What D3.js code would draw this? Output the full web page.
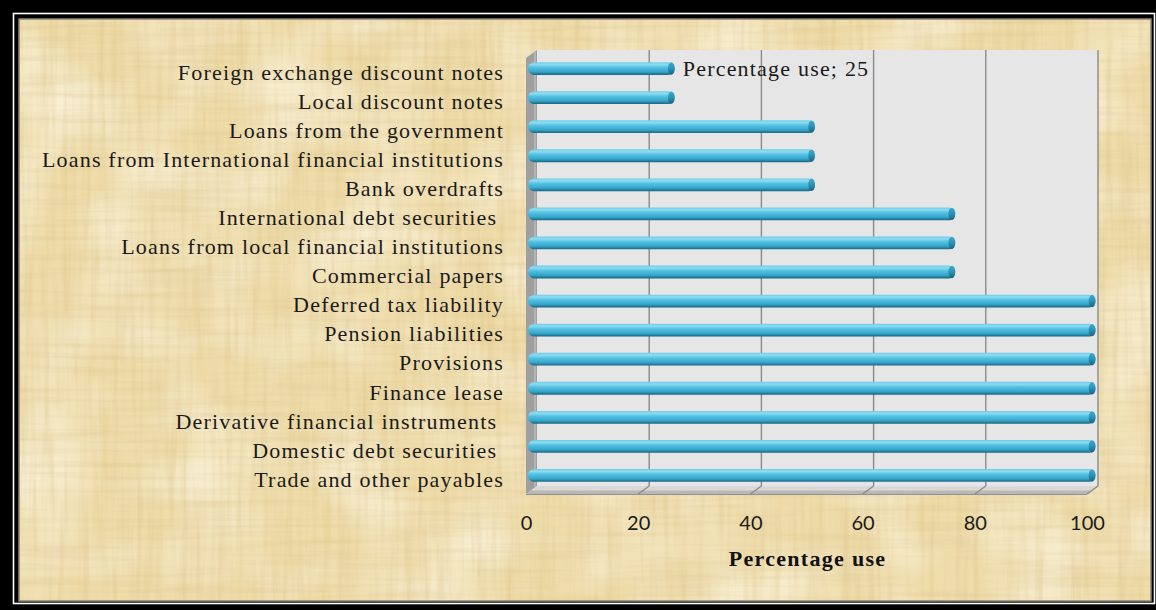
<!DOCTYPE html>
<html>
<head>
<meta charset="utf-8">
<script src="https://cdn.jsdelivr.net/npm/d3@7"></script>
<style>
  html, body { margin: 0; padding: 0; background: #000; }
  svg { display: block; }
  .cat text { white-space: pre; }
</style>
</head>
<body>
<svg id="chart" width="1156" height="610"></svg>
<script>
// Funding sources and the share of firms using each (top to bottom)
const categories = [
  "Foreign exchange discount notes",
  "Local discount notes",
  "Loans from the government",
  "Loans from International financial institutions",
  "Bank overdrafts",
  "International debt securities ",
  "Loans from local financial institutions",
  "Commercial papers",
  "Deferred tax liability",
  "Pension liabilities",
  "Provisions",
  "Finance lease",
  "Derivative financial instruments ",
  "Domestic debt securities ",
  "Trade and other payables"
];
const percentageUse = [25, 25, 50, 50, 50, 75, 75, 75, 100, 100, 100, 100, 100, 100, 100];
const xTicks = [0, 20, 40, 60, 80, 100];
const seriesName = "Percentage use";
const axisTitle = "Percentage use";
const labelledIndex = 0; // bar carrying the data label

const W = 1156, H = 610;
const paper = { x: 19, y: 19, w: 1132, h: 582 };
const serif = "'Liberation Serif', 'Times New Roman', serif";
const svg = d3.select("#chart");
const defs = svg.append("defs");

// ---------- papyrus texture ----------
const f = defs.append("filter").attr("id", "paper")
  .attr("filterUnits", "userSpaceOnUse")
  .attr("x", paper.x).attr("y", paper.y).attr("width", paper.w).attr("height", paper.h);
f.append("feTurbulence").attr("type", "fractalNoise")
  .attr("baseFrequency", "0.16 0.008").attr("numOctaves", 3).attr("seed", 7).attr("result", "nv");
f.append("feColorMatrix").attr("in", "nv").attr("type", "matrix")
  .attr("values", "0 0 0 0 0.72  0 0 0 0 0.55  0 0 0 0 0.24  0.9 0 0 0 -0.36")
  .attr("result", "dv");
f.append("feTurbulence").attr("type", "fractalNoise")
  .attr("baseFrequency", "0.008 0.16").attr("numOctaves", 3).attr("seed", 11).attr("result", "nh");
f.append("feColorMatrix").attr("in", "nh").attr("type", "matrix")
  .attr("values", "0 0 0 0 0.72  0 0 0 0 0.56  0 0 0 0 0.26  0.85 0 0 0 -0.36")
  .attr("result", "dh");
f.append("feTurbulence").attr("type", "fractalNoise")
  .attr("baseFrequency", "0.012 0.014").attr("numOctaves", 2).attr("seed", 3).attr("result", "nl");
f.append("feColorMatrix").attr("in", "nl").attr("type", "matrix")
  .attr("values", "0 0 0 0 0.99  0 0 0 0 0.95  0 0 0 0 0.82  1.4 0 0 0 -0.55")
  .attr("result", "lt");
const fm = f.append("feMerge");
fm.append("feMergeNode").attr("in", "lt");
fm.append("feMergeNode").attr("in", "dv");
fm.append("feMergeNode").attr("in", "dh");

// ---------- bar cylinder shading ----------
const g = defs.append("linearGradient").attr("id", "barGrad")
  .attr("x1", 0).attr("y1", 0).attr("x2", 0).attr("y2", 1);
[[0, "#6fcbe6"], [0.18, "#8edcf2"], [0.42, "#52c0e0"], [0.75, "#36a6cb"], [0.9, "#247f9e"], [1, "#1b6580"]]
  .forEach(([o, c]) => g.append("stop").attr("offset", o).attr("stop-color", c));
const gc = defs.append("linearGradient").attr("id", "capGrad")
  .attr("x1", 0).attr("y1", 0).attr("x2", 0).attr("y2", 1);
[[0, "#3da9cb"], [0.5, "#2b92b5"], [1, "#1a627c"]]
  .forEach(([o, c]) => gc.append("stop").attr("offset", o).attr("stop-color", c));

// ---------- frame ----------
svg.append("rect").attr("width", W).attr("height", H).attr("fill", "#000");
svg.append("rect").attr("x", 13.5).attr("y", 13.5).attr("width", 1141).attr("height", 590)
  .attr("fill", "none").attr("stroke", "#fff").attr("stroke-width", 1.6);
svg.append("rect").attr("x", paper.x).attr("y", paper.y).attr("width", paper.w).attr("height", paper.h)
  .attr("fill", "#eedcaa");
svg.append("rect").attr("x", paper.x).attr("y", paper.y).attr("width", paper.w).attr("height", paper.h)
  .attr("fill", "#eedcaa").attr("filter", "url(#paper)");
svg.append("rect").attr("x", paper.x).attr("y", paper.y).attr("width", paper.w).attr("height", paper.h)
  .attr("fill", "none").attr("stroke", "#8a8577").attr("stroke-width", 1.5);

// ---------- scales (back wall, mid-depth, front plane) ----------
const depth = { dx: -11, dy: 8 };
const x = d3.scaleLinear().domain([0, 100]).range([537, 1098]);
const y = d3.scaleBand().domain(categories).range([50, 486]);
const xFront = x.copy().range(x.range().map(v => v + depth.dx));
const yFront = y.copy().range(y.range().map(v => v + depth.dy));
const xMid = x.copy().range(x.range().map(v => v + depth.dx / 2));
const yMidC = c => y(c) + y.bandwidth() / 2 + depth.dy / 2;

const [x0, x1] = x.range();
const [yTop, yBot] = y.range();

// back wall
svg.append("rect").attr("x", x0).attr("y", yTop).attr("width", x1 - x0).attr("height", yBot - yTop)
  .attr("fill", "#e6e6e6");
// left side wall
svg.append("polygon")
  .attr("points", [[x0, yTop], [x0, yBot], [x0 + depth.dx, yBot + depth.dy], [x0 + depth.dx, yTop + depth.dy]].join(" "))
  .attr("fill", "#9f9f9f");
svg.append("line").attr("x1", x0 - 2).attr("x2", x0 - 2).attr("y1", yTop + 2).attr("y2", yBot + 1)
  .attr("stroke", "#b4b4b4").attr("stroke-width", 2);
// floor: top surface and front edge
svg.append("polygon")
  .attr("points", [[x0, yBot], [x1, yBot], [x1 + depth.dx * 0.55, yBot + depth.dy * 0.55], [x0 + depth.dx * 0.55, yBot + depth.dy * 0.55]].join(" "))
  .attr("fill", "#d9d9d9");
svg.append("polygon")
  .attr("points", [[x0 + depth.dx * 0.55, yBot + depth.dy * 0.55], [x1 + depth.dx * 0.55, yBot + depth.dy * 0.55],
                   [x1 + depth.dx, yBot + depth.dy], [x0 + depth.dx, yBot + depth.dy]].join(" "))
  .attr("fill", "#b8b8b8");
svg.append("line").attr("x1", x0 + depth.dx).attr("x2", x1 + depth.dx)
  .attr("y1", yBot + depth.dy + 0.5).attr("y2", yBot + depth.dy + 0.5)
  .attr("stroke", "#8f8f8f").attr("stroke-width", 1);

// gridlines on wall and floor
const grid = svg.append("g").attr("stroke", "#8a8a8a").attr("stroke-width", 1.4).attr("fill", "none");
xTicks.filter(t => t > 0).forEach(t => {
  grid.append("line").attr("x1", x(t)).attr("x2", x(t)).attr("y1", yTop).attr("y2", yBot);
  grid.append("line").attr("x1", x(t)).attr("x2", xFront(t)).attr("y1", yBot).attr("y2", yBot + depth.dy);
});

// ---------- bars ----------
const barH = 12.8;
const bars = svg.append("g");
categories.forEach((c, i) => {
  const v = percentageUse[i];
  const cy = yMidC(c);
  const xs = xMid(0) - 3.5, xe = xMid(v) + 3;
  bars.append("rect")
    .attr("x", xs).attr("y", cy - barH / 2)
    .attr("width", xe - xs).attr("height", barH)
    .attr("rx", barH / 2).attr("ry", barH / 2)
    .attr("fill", "url(#barGrad)");
  bars.append("ellipse")
    .attr("cx", xe - 3.4).attr("cy", cy).attr("rx", 3.4).attr("ry", barH / 2 - 0.2)
    .attr("fill", "url(#capGrad)");
});

// data label
const lc = categories[labelledIndex];
svg.append("text")
  .attr("x", xMid(percentageUse[labelledIndex]) + 11)
  .attr("y", yMidC(lc)).attr("dy", "0.36em")
  .attr("font-family", serif)
  .attr("font-size", 22).attr("letter-spacing", 1.2).attr("fill", "#1a1a1a")
  .text(`${seriesName}; ${percentageUse[labelledIndex]}`);

// ---------- axes ----------
const yAxis = d3.axisLeft(yFront).tickSize(0).tickPadding(22);
const ya = svg.append("g").attr("class", "cat")
  .attr("transform", `translate(${x0 + depth.dx},0)`)
  .call(yAxis);
ya.select(".domain").remove();
ya.selectAll("text")
  .attr("font-family", serif)
  .attr("font-size", 22).attr("letter-spacing", 1.2).attr("fill", "#1a1a1a").attr("dy", "0.33em");

const xAxis = d3.axisBottom(xFront).tickValues(xTicks).tickSize(0).tickPadding(0);
const xa = svg.append("g").attr("transform", `translate(0,${yBot + depth.dy + 21})`).call(xAxis);
xa.select(".domain").remove();
xa.selectAll("text")
  .attr("font-family", "Lato, 'Open Sans', sans-serif")
  .attr("font-size", 20).attr("fill", "#1a1a1a").attr("dy", "0.75em");

svg.append("text")
  .attr("x", (xFront(0) + xFront(100)) / 2 + 1).attr("y", 566)
  .attr("text-anchor", "middle")
  .attr("font-family", serif)
  .attr("font-weight", "bold").attr("font-size", 22).attr("letter-spacing", 1.3).attr("fill", "#111")
  .text(axisTitle);
</script>
</body>
</html>
